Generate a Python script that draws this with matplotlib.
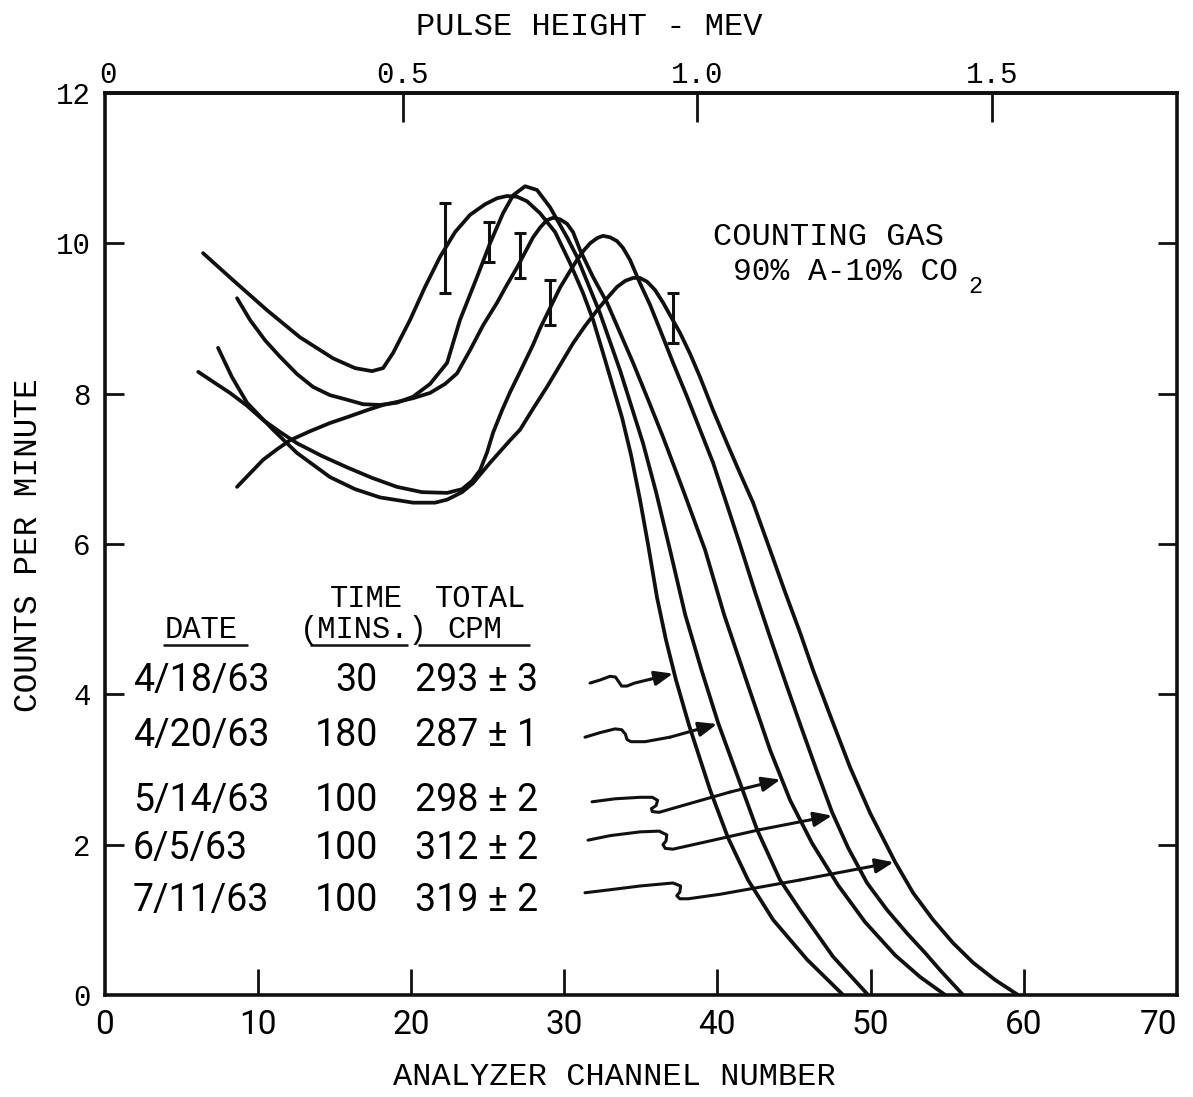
import numpy as np
import matplotlib
matplotlib.use("Agg")
import matplotlib.pyplot as plt

MONO = "Liberation Mono"
HAND = "Roboto"

# ---- run log -------------------------------------------------------------
dates = ["4/18/63", "4/20/63", "5/14/63", "6/5/63", "7/11/63"]
count_time_min = [30, 180, 100, 100, 100]
total_cpm = [293, 287, 298, 312, 319]
total_cpm_err = [3, 1, 2, 2, 2]

# ---- pulse-height spectra: analyzer channel vs counts per minute ---------
ch_0418 = [6.43, 8.39, 10.61, 12.76, 14.92, 16.35, 17.46, 18.18, 18.83, 19.94,
           20.92, 21.90, 22.88, 23.86, 24.84, 25.62, 26.27, 26.93, 27.58, 28.43,
           29.41, 30.38, 31.23, 31.89, 32.54, 33.19, 33.78, 34.37, 34.95, 35.48,
           36.06, 36.65, 37.30, 38.15, 39.52, 40.70, 42.00, 43.64, 45.86, 48.21]
cpm_0418 = [9.87, 9.51, 9.11, 8.75, 8.47, 8.34, 8.30, 8.34, 8.54, 8.98,
            9.42, 9.82, 10.15, 10.38, 10.52, 10.60, 10.63, 10.62, 10.56, 10.40,
            10.15, 9.74, 9.34, 8.98, 8.54, 8.09, 7.68, 7.18, 6.59, 5.99,
            5.29, 4.72, 4.19, 3.59, 2.73, 2.09, 1.53, 1.00, 0.47, 0.0]

ch_0420 = [8.65, 9.50, 10.48, 11.46, 12.57, 13.61, 14.72, 15.83, 16.87, 17.98,
           19.09, 20.14, 21.25, 22.36, 23.20, 24.31, 25.16, 26.01, 26.67, 27.45,
           28.23, 29.08, 30.19, 30.84, 32.34, 33.65, 35.15, 36.00, 36.91, 37.90,
           39.00, 40.05, 41.48, 42.59, 44.09, 45.40, 47.55, 49.84]
cpm_0420 = [9.27, 8.98, 8.71, 8.49, 8.26, 8.09, 7.98, 7.92, 7.86, 7.85,
            7.88, 7.96, 8.13, 8.41, 8.98, 9.55, 10.00, 10.40, 10.64, 10.76,
            10.71, 10.48, 10.08, 9.82, 9.07, 8.31, 7.34, 6.69, 5.92, 5.06,
            4.30, 3.62, 2.82, 2.20, 1.53, 1.13, 0.51, 0.0]

ch_0514 = [8.65, 9.50, 10.35, 11.26, 12.11, 13.41, 14.72, 16.02, 17.13, 18.18,
           19.09, 20.14, 21.25, 22.23, 23.01, 23.86, 24.71, 25.62, 26.27, 26.93,
           27.45, 27.97, 28.43, 28.88, 29.28, 29.73, 30.19, 30.58, 31.04, 31.89,
           32.80, 33.65, 34.50, 35.48, 36.46, 37.76, 39.20, 40.44, 42.00, 43.44,
           44.75, 46.18, 47.88, 49.64, 51.60, 53.23, 54.87]
cpm_0514 = [6.76, 6.94, 7.12, 7.26, 7.38, 7.50, 7.61, 7.70, 7.78, 7.85,
            7.89, 7.94, 8.01, 8.13, 8.27, 8.58, 8.91, 9.21, 9.45, 9.68,
            9.88, 10.08, 10.21, 10.31, 10.34, 10.32, 10.26, 10.15, 9.91, 9.55,
            9.21, 8.81, 8.41, 7.92, 7.42, 6.72, 5.92, 5.06, 4.12, 3.26,
            2.59, 2.02, 1.46, 0.97, 0.53, 0.24, 0.0]

ch_0605 = [6.12, 7.15, 8.19, 9.30, 10.35, 11.46, 12.57, 14.20, 15.83, 17.46,
           19.09, 20.72, 22.36, 23.34, 23.99, 24.51, 24.97, 25.36, 25.95, 26.47,
           27.12, 27.97, 28.43, 29.08, 29.73, 30.38, 30.84, 31.30, 31.69, 32.15,
           32.54, 33.00, 33.45, 33.84, 34.30, 34.95, 35.61, 36.26, 37.11, 38.02,
           38.87, 39.72, 40.63, 41.48, 42.46, 43.44, 44.48, 45.46, 46.51, 47.49,
           48.53, 49.77, 51.08, 52.38, 53.56, 54.54, 56.04]
cpm_0605 = [8.29, 8.15, 8.01, 7.84, 7.65, 7.49, 7.34, 7.17, 7.02, 6.88,
            6.76, 6.69, 6.68, 6.73, 6.84, 6.98, 7.22, 7.48, 7.78, 8.02,
            8.29, 8.65, 8.87, 9.14, 9.41, 9.63, 9.78, 9.91, 10.00, 10.07,
            10.10, 10.08, 10.03, 9.94, 9.78, 9.47, 9.18, 8.85, 8.41, 7.96,
            7.52, 7.08, 6.52, 5.99, 5.36, 4.76, 4.14, 3.57, 2.97, 2.43,
            1.96, 1.49, 1.13, 0.82, 0.56, 0.33, 0.0]

ch_0711 = [7.41, 8.32, 9.30, 11.00, 12.57, 14.72, 16.35, 17.98, 20.14, 21.57,
           22.36, 23.34, 24.05, 25.16, 26.47, 27.12, 27.97, 28.88, 29.73, 30.58,
           31.36, 32.15, 32.80, 33.45, 33.98, 34.50, 34.95, 35.41, 35.93, 36.46,
           36.98, 37.56, 38.22, 38.87, 39.72, 40.63, 41.48, 42.33, 43.44, 44.42,
           45.40, 46.25, 47.36, 48.66, 49.97, 51.60, 52.77, 54.08, 55.39, 56.69,
           58.13, 59.63]
cpm_0711 = [8.61, 8.22, 7.88, 7.52, 7.21, 6.89, 6.73, 6.62, 6.55, 6.55,
            6.59, 6.69, 6.81, 7.08, 7.38, 7.52, 7.80, 8.09, 8.38, 8.67,
            8.90, 9.11, 9.27, 9.42, 9.50, 9.54, 9.54, 9.49, 9.38, 9.21,
            9.02, 8.81, 8.53, 8.22, 7.78, 7.34, 6.94, 6.55, 5.92, 5.36,
            4.82, 4.32, 3.72, 3.03, 2.42, 1.77, 1.36, 1.00, 0.69, 0.43,
            0.20, 0.0]

spectra = [(ch_0418, cpm_0418), (ch_0420, cpm_0420), (ch_0514, cpm_0514),
           (ch_0605, cpm_0605), (ch_0711, cpm_0711)]

# ---- one representative statistical error bar per spectrum ---------------
err_channel = [22.23, 25.10, 27.12, 29.08, 37.11]
err_cpm = [9.94, 10.02, 9.84, 9.21, 9.01]
err_half = [0.60, 0.27, 0.30, 0.30, 0.33]

# counts/min level where each date's pointer meets its spectrum
pointer_cpm = [4.28, 3.61, 2.87, 2.39, 1.77]

# channel <-> energy calibration
CH_OFFSET = 0.2
CH_PER_MEV = 38.5

channel_ticks = [0, 10, 20, 30, 40, 50, 60, 70]
cpm_ticks = [0, 2, 4, 6, 8, 10, 12]
mev_ticks = [0, 0.5, 1.0, 1.5]
mev_labels = ["0", "0.5", "1.0", "1.5"]

# ---- layout of the run-log table (axis units) ----------------------------
row_baseline = [4.04, 3.31, 2.45, 1.81, 1.12]
col_date, col_time_right, col_total = 1.86, 17.85, 20.27

# hand-drawn pointer squiggles (tail ends; head is drawn to the curve)
pointer_paths = [
    [(31.69, 4.15), (32.34, 4.19), (33.00, 4.24), (33.35, 4.23), (33.55, 4.17),
     (33.75, 4.11), (34.10, 4.11), (34.60, 4.15), (35.61, 4.20)],
    [(31.36, 3.43), (32.34, 3.49), (33.32, 3.54), (33.75, 3.53), (34.00, 3.47),
     (34.10, 3.40), (34.35, 3.37), (35.28, 3.37), (36.91, 3.43)],
    [(31.82, 2.57), (33.32, 2.61), (34.95, 2.63), (35.75, 2.63), (36.10, 2.59),
     (36.00, 2.52), (35.70, 2.48), (35.75, 2.44), (36.20, 2.43), (37.56, 2.51),
     (40.83, 2.70)],
    [(31.56, 2.06), (33.00, 2.12), (34.95, 2.17), (36.20, 2.18), (36.70, 2.13),
     (36.65, 2.05), (36.45, 2.00), (36.60, 1.95), (37.10, 1.94), (38.87, 2.02),
     (42.79, 2.20)],
    [(31.36, 1.36), (33.00, 1.40), (34.95, 1.45), (37.10, 1.49), (37.60, 1.45),
     (37.55, 1.37), (37.35, 1.32), (37.55, 1.28), (38.10, 1.28), (40.18, 1.34),
     (45.40, 1.53)],
]

INK = "#101010"

fig = plt.figure(figsize=(11.93, 10.97), dpi=100)
fig.patch.set_facecolor("white")
ax = fig.add_axes([0.0876, 0.0930, 0.8990, 0.8222])
ax.set_xlim(0, 70)
ax.set_ylim(0, 12)

for s in ax.spines.values():
    s.set_linewidth(2.6)
    s.set_color(INK)

# spectra
for ch, cpm in spectra:
    ax.plot(ch, cpm, color=INK, lw=2.7, solid_joinstyle="round",
            solid_capstyle="round")

ax.errorbar(err_channel, err_cpm, yerr=err_half, fmt="none", ecolor=INK,
            elinewidth=2.2, capsize=4.5, capthick=2.2)

# bottom axis: labels on every decade, marks only on interior ones
ax.xaxis.remove_overlapping_locs = False
ax.yaxis.remove_overlapping_locs = False
ax.set_xticks(channel_ticks)
xlabels = ax.set_xticklabels([str(v) for v in channel_ticks], fontfamily=HAND,
                             fontsize=24)
xlabels[-1].set_horizontalalignment("right")
ax.set_xticks(channel_ticks[1:-1], minor=True)
ax.tick_params(axis="x", which="major", length=0, pad=10)
ax.tick_params(axis="x", which="minor", direction="in", length=19, width=2.0,
               color=INK)

ax.set_yticks(cpm_ticks)
ax.set_yticklabels([str(v) for v in cpm_ticks], fontfamily=MONO, fontsize=21)
ax.set_yticks(cpm_ticks[1:-1], minor=True)
ax.tick_params(axis="y", which="major", length=0, pad=10)
ax.tick_params(axis="y", which="minor", direction="in", length=14, width=2.0,
               left=True, right=True, color=INK)

# top axis: pulse height in MeV
sec = ax.secondary_xaxis(
    "top",
    functions=(lambda c: (c - CH_OFFSET) / CH_PER_MEV,
               lambda e: e * CH_PER_MEV + CH_OFFSET))
sec.xaxis.remove_overlapping_locs = False
sec.set_xticks(mev_ticks)
sec.set_xticklabels(mev_labels, fontfamily=MONO, fontsize=21)
sec.set_xticks(mev_ticks[1:], minor=True)
sec.tick_params(axis="x", which="major", length=0, pad=3)
sec.tick_params(axis="x", which="minor", direction="in", length=21, width=2.0,
                color=INK)
sec.spines["top"].set_linewidth(2.6)

# axis titles
fig.text(0.494, 0.9754, "PULSE HEIGHT - MEV", fontfamily=MONO, fontsize=23,
         ha="center", va="center")
fig.text(0.515, 0.0182, "ANALYZER CHANNEL NUMBER", fontfamily=MONO,
         fontsize=23, ha="center", va="center")
fig.text(0.0235, 0.503, "COUNTS PER MINUTE", fontfamily=MONO, fontsize=23.5,
         ha="center", va="center", rotation=90)

# gas note
ax.text(39.72, 9.98, "COUNTING GAS", fontfamily=MONO, fontsize=23,
        va="baseline", ha="left")
ax.text(41.05, 9.51, "90% A-10% CO", fontfamily=MONO, fontsize=22.5,
        va="baseline", ha="left")
ax.text(56.4, 9.34, "2", fontfamily=MONO, fontsize=17, va="baseline",
        ha="left")

# run-log table headings
ax.text(3.95, 4.75, "DATE", fontfamily=MONO, fontsize=22, va="baseline")
ax.text(14.72, 5.16, "TIME", fontfamily=MONO, fontsize=22, va="baseline")
ax.text(12.76, 4.75, "(MINS.)", fontfamily=MONO, fontsize=22, va="baseline")
ax.text(21.57, 5.16, "TOTAL", fontfamily=MONO, fontsize=22, va="baseline")
ax.text(22.36, 4.75, "CPM", fontfamily=MONO, fontsize=22, va="baseline")
for x0, x1 in [(3.82, 9.37), (13.41, 19.81), (20.46, 27.78)]:
    ax.plot([x0, x1], [4.66, 4.66], color=INK, lw=1.8, solid_capstyle="butt")

for i, d in enumerate(dates):
    y = row_baseline[i]
    ax.text(col_date, y, d, fontfamily=HAND, fontsize=27, va="baseline",
            ha="left")
    ax.text(col_time_right, y, str(count_time_min[i]), fontfamily=HAND,
            fontsize=27, va="baseline", ha="right")
    ax.text(col_total, y, f"{total_cpm[i]} \u00b1 {total_cpm_err[i]}",
            fontfamily=HAND, fontsize=27, va="baseline", ha="left")

# pointers from each table row to its spectrum
for (ch, cpm), path, ty in zip(spectra, pointer_paths, pointer_cpm):
    ch = np.asarray(ch)
    cpm = np.asarray(cpm)
    k = int(np.argmax(cpm))
    tail_ch, tail_cpm = ch[k:], cpm[k:]
    tx = float(np.interp(ty, tail_cpm[::-1], tail_ch[::-1]))
    px, py = zip(*path)
    ax.plot(px, py, color=INK, lw=2.2, solid_joinstyle="round",
            solid_capstyle="round")
    ax.annotate("", xy=(tx, ty), xytext=path[-1],
                arrowprops=dict(arrowstyle="-|>,head_length=0.55,head_width=0.22",
                                color=INK, lw=2.2, shrinkA=0, shrinkB=1,
                                mutation_scale=20))

fig.savefig("out.png", dpi=100, facecolor="white")
